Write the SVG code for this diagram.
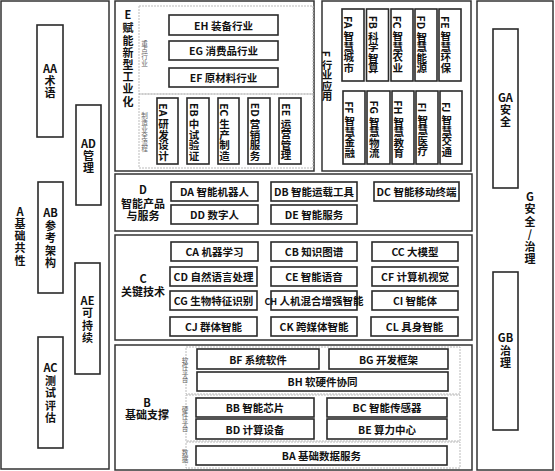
<svg xmlns="http://www.w3.org/2000/svg" width="555" height="471" viewBox="0 0 555 471">
<style>
text{font-family:"Noto Sans CJK SC","Liberation Sans",sans-serif;font-weight:bold;fill:#111;}
.h{text-anchor:middle;dominant-baseline:central;font-size:11px;}
.b{font-size:10.5px;text-anchor:middle;dominant-baseline:central;}
.v{writing-mode:vertical-rl;text-anchor:middle;font-size:10.5px;}
.s{writing-mode:vertical-rl;text-anchor:middle;font-size:6.6px;font-weight:normal;fill:#666;}
.p{fill:#fff;stroke:#333;stroke-width:1.5;}
.n{fill:#fff;stroke:#2a2a2a;stroke-width:1.6;}
.d{fill:none;stroke:#bbb;stroke-width:1;stroke-dasharray:2 1;}
</style>
<rect width="555" height="471" fill="#fff"/>

<g id="A">
<rect class="p" x="1" y="1" width="108" height="468"/>
<text class="h" x="20" y="211">A</text>
<text class="h" x="20" y="223">基</text>
<text class="h" x="20" y="235">础</text>
<text class="h" x="20" y="247">共</text>
<text class="h" x="20" y="260">性</text>
</g>
<g id="AA">
<rect class="n" x="37" y="25" width="26" height="112"/>
<text class="h" x="50" y="68">AA</text>
<text class="h" x="50" y="80">术</text>
<text class="h" x="50" y="92">语</text>
</g>
<g id="AD">
<rect class="n" x="76" y="105" width="25" height="100"/>
<text class="h" x="88.5" y="143">AD</text>
<text class="h" x="88.5" y="155">管</text>
<text class="h" x="88.5" y="167">理</text>
</g>
<g id="AB">
<rect class="n" x="38" y="182" width="25" height="111"/>
<text class="h" x="50.5" y="212">AB</text>
<text class="h" x="50.5" y="225">参</text>
<text class="h" x="50.5" y="237">考</text>
<text class="h" x="50.5" y="250">架</text>
<text class="h" x="50.5" y="262">构</text>
</g>
<g id="AE">
<rect class="n" x="75" y="263" width="25" height="111"/>
<text class="h" x="87.5" y="300">AE</text>
<text class="h" x="87.5" y="312">可</text>
<text class="h" x="87.5" y="325">持</text>
<text class="h" x="87.5" y="337">续</text>
</g>
<g id="AC">
<rect class="n" x="38" y="337" width="25" height="111"/>
<text class="h" x="50.5" y="367">AC</text>
<text class="h" x="50.5" y="380">测</text>
<text class="h" x="50.5" y="392">试</text>
<text class="h" x="50.5" y="405">评</text>
<text class="h" x="50.5" y="417">估</text>
</g>

<g id="E">
<rect class="p" x="115" y="1" width="199" height="170"/>
<rect class="d" x="139" y="6" width="174" height="88"/>
<rect class="d" x="139" y="94" width="174" height="74"/>
<text class="h" x="128" y="14">E</text>
<text class="h" x="128" y="27">赋</text>
<text class="h" x="128" y="39.5">能</text>
<text class="h" x="128" y="52">新</text>
<text class="h" x="128" y="64">型</text>
<text class="h" x="128" y="76">工</text>
<text class="h" x="128" y="88">业</text>
<text class="h" x="128" y="100.5">化</text>
<text class="s" x="144.5" y="53.5">重点行业</text>
<text class="s" x="144.5" y="132.5">制造业全流程</text>
</g>
<g id="EH"><rect class="n" x="169" y="15" width="109" height="20"/><text class="b" x="223.5" y="25" font-size="11">EH  装备行业</text></g>
<g id="EG"><rect class="n" x="169" y="41" width="109" height="19"/><text class="b" x="223.5" y="50.5" font-size="11">EG  消费品行业</text></g>
<g id="EF"><rect class="n" x="169" y="68" width="109" height="19"/><text class="b" x="223.5" y="77.5" font-size="11">EF  原材料行业</text></g>
<g id="EA"><rect class="n" x="157" y="98" width="21" height="66"/><text class="v" x="163.5" y="132">EA 研发设计</text></g>
<g id="EB"><rect class="n" x="187" y="98" width="22" height="66"/><text class="v" x="194" y="132">EB 中试验证</text></g>
<g id="EC"><rect class="n" x="218" y="98" width="21" height="66"/><text class="v" x="224.5" y="132">EC 生产制造</text></g>
<g id="ED"><rect class="n" x="248" y="98" width="22" height="66"/><text class="v" x="255" y="132">ED 营销服务</text></g>
<g id="EE"><rect class="n" x="279" y="98" width="22" height="66"/><text class="v" x="286" y="132">EE 运营管理</text></g>

<g id="F">
<rect class="p" x="322" y="1" width="149" height="170"/>
<text class="v" x="326.9" y="76" font-size="9.5">F 行业应用</text>
</g>
<g id="FA"><rect class="n" x="342" y="9" width="22" height="72"/><text class="v" x="348.8" y="44.5" font-size="11">FA 智慧城市</text></g>
<g id="FB"><rect class="n" x="366.5" y="9" width="22" height="72"/><text class="v" x="373.3" y="44.5" font-size="11">FB 科学智算</text></g>
<g id="FC"><rect class="n" x="391" y="9" width="22" height="72"/><text class="v" x="397.8" y="44.5" font-size="11">FC 智慧农业</text></g>
<g id="FD"><rect class="n" x="415" y="9" width="22" height="72"/><text class="v" x="421.8" y="44.5" font-size="11">FD 智慧能源</text></g>
<g id="FE"><rect class="n" x="439" y="9" width="22" height="72"/><text class="v" x="445.8" y="44.5" font-size="11">FE 智慧环保</text></g>
<g id="FF"><rect class="n" x="343" y="91" width="22" height="73"/><text class="v" x="349.8" y="129.5" font-size="11">FF 智慧金融</text></g>
<g id="FG"><rect class="n" x="367" y="91" width="23" height="73"/><text class="v" x="374.3" y="129.5" font-size="11">FG 智慧物流</text></g>
<g id="FH"><rect class="n" x="392" y="91" width="22" height="73"/><text class="v" x="398.8" y="129.5" font-size="11">FH 智慧教育</text></g>
<g id="FI"><rect class="n" x="416" y="91" width="22" height="73"/><text class="v" x="422.8" y="129.5" font-size="11">FI 智慧医疗</text></g>
<g id="FJ"><rect class="n" x="440" y="91" width="22" height="73"/><text class="v" x="446.8" y="129.5" font-size="11">FJ 智慧交通</text></g>

<g id="G">
<rect class="p" x="477" y="1" width="76" height="469"/>
<text class="h" x="530" y="196">G</text>
<text class="h" x="530" y="208">安</text>
<text class="h" x="530" y="220.5">全</text>
<text class="h" x="530" y="233">/</text>
<text class="h" x="530" y="245.5">治</text>
<text class="h" x="530" y="258">理</text>
</g>
<g id="GA"><rect class="n" x="493" y="29" width="25" height="159"/>
<text class="h" x="505.5" y="97">GA</text>
<text class="h" x="505.5" y="108.5">安</text>
<text class="h" x="505.5" y="120.5">全</text>
</g>
<g id="GB"><rect class="n" x="493" y="272" width="25" height="158"/>
<text class="h" x="505.5" y="337">GB</text>
<text class="h" x="505.5" y="350">治</text>
<text class="h" x="505.5" y="362">理</text>
</g>

<g id="D">
<rect class="p" x="115" y="174" width="357" height="57"/>
<text class="h" x="143" y="189">D</text>
<text class="h" x="143" y="203">智能产品</text>
<text class="h" x="143" y="215">与服务</text>
</g>
<g id="DA"><rect class="n" x="171" y="182" width="87" height="19"/><text class="b" x="214.5" y="191.5">DA 智能机器人</text></g>
<g id="DB"><rect class="n" x="271" y="182" width="86" height="19"/><text class="b" x="314" y="191.5">DB 智能运载工具</text></g>
<g id="DC"><rect class="n" x="374" y="182" width="85" height="19"/><text class="b" x="416.5" y="191.5">DC 智能移动终端</text></g>
<g id="DD"><rect class="n" x="171" y="205" width="87" height="19"/><text class="b" x="214.5" y="214.5">DD 数字人</text></g>
<g id="DE"><rect class="n" x="271" y="205" width="86" height="19"/><text class="b" x="314" y="214.5">DE 智能服务</text></g>

<g id="C">
<rect class="p" x="115" y="235" width="357" height="105"/>
<text class="h" x="143" y="278">C</text>
<text class="h" x="143" y="290.5">关键技术</text>
</g>
<g id="CA"><rect class="n" x="171" y="242" width="87" height="19"/><text class="b" x="214.5" y="251.5">CA 机器学习</text></g>
<g id="CB"><rect class="n" x="271" y="242" width="86" height="19"/><text class="b" x="314" y="251.5">CB 知识图谱</text></g>
<g id="CC"><rect class="n" x="372" y="242" width="86" height="19"/><text class="b" x="415" y="251.5">CC 大模型</text></g>
<g id="CD"><rect class="n" x="170" y="267" width="87" height="19"/><text class="b" x="213.5" y="276.5">CD 自然语言处理</text></g>
<g id="CE"><rect class="n" x="271" y="267" width="86" height="19"/><text class="b" x="314" y="276.5">CE 智能语音</text></g>
<g id="CF"><rect class="n" x="372" y="267" width="86" height="19"/><text class="b" x="415" y="276.5">CF 计算机视觉</text></g>
<g id="CG"><rect class="n" x="170" y="291" width="87" height="19"/><text class="b" x="213.5" y="300.5">CG 生物特征识别</text></g>
<g id="CH"><rect class="n" x="271" y="291" width="86" height="19"/><text class="b" x="314" y="300.5" font-size="8"><tspan font-size="9">CH</tspan> 人机混合增强智能</text></g>
<g id="CI"><rect class="n" x="372" y="291" width="86" height="19"/><text class="b" x="415" y="300.5">CI 智能体</text></g>
<g id="CJ"><rect class="n" x="170" y="317" width="87" height="19"/><text class="b" x="213.5" y="326.5">CJ 群体智能</text></g>
<g id="CK"><rect class="n" x="271" y="317" width="86" height="19"/><text class="b" x="314" y="326.5">CK 跨媒体智能</text></g>
<g id="CL"><rect class="n" x="371" y="317" width="87" height="19"/><text class="b" x="414.5" y="326.5">CL 具身智能</text></g>

<g id="B">
<rect class="p" x="115" y="345" width="357" height="125"/>
<rect class="d" x="186" y="347" width="274" height="47"/>
<rect class="d" x="186" y="395" width="274" height="46"/>
<rect class="d" x="186" y="442" width="274" height="26"/>
<text class="h" x="147" y="402">B</text>
<text class="h" x="147" y="413.5">基础支撑</text>
<text class="s" x="185" y="370">软件平台</text>
<text class="s" x="185" y="419">硬件平台</text>
<text class="s" x="185" y="456">数据</text>
</g>
<g id="BF"><rect class="n" x="197" y="349" width="122" height="20"/><text class="b" x="258" y="359">BF 系统软件</text></g>
<g id="BG"><rect class="n" x="329" y="349" width="119" height="20"/><text class="b" x="388.5" y="359">BG 开发框架</text></g>
<g id="BH"><rect class="n" x="197" y="372" width="251" height="19"/><text class="b" x="322.5" y="381.5">BH 软硬件协同</text></g>
<g id="BB"><rect class="n" x="196" y="398" width="118" height="19"/><text class="b" x="255" y="407.5">BB 智能芯片</text></g>
<g id="BC"><rect class="n" x="327" y="398" width="120" height="19"/><text class="b" x="387" y="407.5">BC 智能传感器</text></g>
<g id="BD"><rect class="n" x="196" y="419" width="118" height="20"/><text class="b" x="255" y="429">BD 计算设备</text></g>
<g id="BE"><rect class="n" x="327" y="419" width="120" height="20"/><text class="b" x="387" y="429">BE 算力中心</text></g>
<g id="BA"><rect class="n" x="196" y="446" width="251" height="19"/><text class="b" x="321.5" y="455.5">BA 基础数据服务</text></g>

<g id="connectors"></g>
</svg>
